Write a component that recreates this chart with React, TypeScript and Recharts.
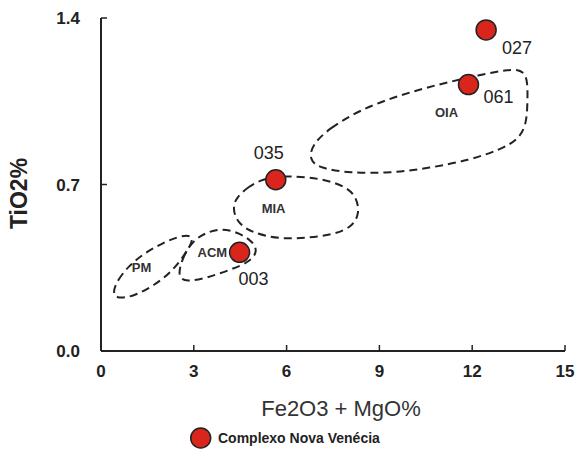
import React from 'react';
import { ComposedChart, XAxis, YAxis, Line, Scatter, Legend, Label, LabelList } from 'recharts';

// Axis ticks
const xTicks = [0, 3, 6, 9, 12, 15];
const yTicks = [0, 0.7, 1.4];

// Samples (Complexo Nova Venécia)
const sampleNames = ['027', '061', '035', '003'];
const sampleFeMg = [12.45, 11.88, 5.65, 4.48];
const sampleTiO2 = [1.35, 1.12, 0.72, 0.415];

// Field outlines (dashed closed curves)
const oiaX = [6.81, 7.39, 8.36, 9.65, 10.94, 12.24, 13.21, 13.59, 13.79, 13.79, 13.76, 13.47, 12.88, 11.91, 10.62, 9.33, 8.03, 7.06, 6.74];
const oiaY = [0.866, 0.937, 1.013, 1.076, 1.122, 1.16, 1.185, 1.181, 1.148, 1.055, 0.95, 0.887, 0.845, 0.803, 0.769, 0.748, 0.748, 0.769, 0.803];

const miaX = [5.19, 4.8, 4.38, 4.25, 4.41, 4.9, 5.77, 6.64, 7.48, 8.13, 8.36, 8.26, 7.94, 7.29, 6.64, 6.0, 5.45];
const miaY = [0.719, 0.694, 0.647, 0.601, 0.538, 0.496, 0.471, 0.475, 0.488, 0.521, 0.58, 0.647, 0.689, 0.719, 0.731, 0.736, 0.727];

const acmX = [2.47, 2.63, 2.93, 3.35, 3.9, 4.48, 4.93, 5.06, 4.8, 4.15, 3.41, 2.76];
const acmY = [0.311, 0.391, 0.458, 0.496, 0.517, 0.496, 0.458, 0.416, 0.374, 0.34, 0.307, 0.29];

const pmX = [0.37, 0.53, 0.92, 1.41, 1.99, 2.54, 2.93, 2.96, 2.7, 2.28, 1.73, 1.08, 0.53];
const pmY = [0.244, 0.298, 0.361, 0.412, 0.454, 0.483, 0.488, 0.458, 0.404, 0.332, 0.277, 0.231, 0.219];

// Field labels
const regionNames = ['OIA', 'MIA', 'ACM', 'PM'];
const regionLabelX = [11.17, 5.58, 3.6, 1.31];
const regionLabelY = [1.005, 0.601, 0.416, 0.353];

const seriesName = 'Complexo Nova Venécia';

const toPts = (xs: number[], ys: number[]) => xs.map((x, i) => ({ x, y: ys[i] }));
const samples = sampleNames.map((name, i) => ({ name, x: sampleFeMg[i], y: sampleTiO2[i] }));
const regions = regionNames.map((name, i) => ({ name, x: regionLabelX[i], y: regionLabelY[i] }));
const outlines = [toPts(oiaX, oiaY), toPts(miaX, miaY), toPts(acmX, acmY), toPts(pmX, pmY)];

// label offsets (styling)
const labelOffset: Record<string, [number, number]> = {
  '027': [31, 18],
  '061': [30, 12],
  '035': [-7, -27],
  '003': [14, 26],
};

const FONT = '"Liberation Sans", Arial, sans-serif';
const INK = '#222';
const RED = '#d9251c';

const SampleDot = (props: any) => {
  const { cx, cy } = props;
  return <circle cx={cx} cy={cy} r={10} fill={RED} stroke={INK} strokeWidth={1.5} />;
};

const RegionText = (props: any) => {
  const { cx, cy, payload } = props;
  return (
    <text x={cx} y={cy} dy="0.36em" textAnchor="middle" fontFamily={FONT} fontWeight="bold" fontSize={13} fill="#333">
      {payload.name}
    </text>
  );
};

const SampleLabel = (props: any) => {
  const { x, y, width, height, value } = props;
  const cx = x + (width || 0) / 2;
  const cy = y + (height || 0) / 2;
  const off = labelOffset[value] || [0, 0];
  return (
    <text x={cx + off[0]} y={cy + off[1]} dy="0.36em" textAnchor="middle" fontFamily={FONT} fontSize={18} fill={INK}>
      {value}
    </text>
  );
};

const LegendContent = () => (
  <svg width={260} height={24}>
    <circle cx={11.7} cy={12} r={10} fill={RED} stroke={INK} strokeWidth={1.5} />
    <text x={29} y={17} fontFamily={FONT} fontWeight="bold" fontSize={14} fill={INK}>
      {seriesName}
    </text>
  </svg>
);

const tickStyle = { fontFamily: FONT, fontWeight: 'bold' as const, fontSize: 17, fill: INK };

export default function App() {
  return (
    <div style={{ position: 'absolute', left: 0, top: 0, width: 579, height: 452, background: '#fff' }}>
      <ComposedChart width={579} height={452} margin={{ top: 18, right: 14, bottom: 51, left: 0 }}>
        <XAxis
          xAxisId="b"
          type="number"
          dataKey="x"
          domain={[0, 15]}
          ticks={xTicks}
          allowDataOverflow
          orientation="bottom"
          height={50}
          tickSize={-6}
          tickMargin={20}
          tick={tickStyle}
          axisLine={{ stroke: INK, strokeWidth: 2 }}
          tickLine={{ stroke: INK, strokeWidth: 1.5 }}
        >
          <Label
            content={(p: any) => {
              const vb = p.viewBox;
              return (
                <text x={vb.x + vb.width / 2 + 8} y={vb.y + 65} textAnchor="middle" fontFamily={FONT} fontSize={22} fill="#333">
                  Fe2O3 + MgO%
                </text>
              );
            }}
          />
        </XAxis>
        <XAxis
          xAxisId="t"
          type="number"
          dataKey="x"
          domain={[0, 15]}
          ticks={xTicks}
          allowDataOverflow
          orientation="top"
          height={0}
          tickSize={-6}
          tickFormatter={() => ''}
          axisLine={{ stroke: INK, strokeWidth: 2 }}
          tickLine={{ stroke: INK, strokeWidth: 1.5 }}
        />
        <YAxis
          yAxisId="l"
          type="number"
          domain={[0, 1.4]}
          ticks={yTicks}
          allowDataOverflow
          width={101}
          tickSize={-6}
          tickMargin={27}
          tick={tickStyle}
          tickFormatter={(v: number) => v.toFixed(1)}
          axisLine={{ stroke: INK, strokeWidth: 2 }}
          tickLine={{ stroke: INK, strokeWidth: 1.5 }}
        >
          <Label
            content={(p: any) => {
              const vb = p.viewBox;
              const cx = 19;
              const cy = vb.y + vb.height / 2 + 9;
              return (
                <text
                  x={cx}
                  y={cy}
                  dy="0.36em"
                  textAnchor="middle"
                  transform={`rotate(-90, ${cx}, ${cy})`}
                  fontFamily={FONT}
                  fontWeight="bold"
                  fontSize={23}
                  fill={INK}
                >
                  TiO2%
                </text>
              );
            }}
          />
        </YAxis>
        <YAxis
          yAxisId="r"
          type="number"
          domain={[0, 1.4]}
          ticks={yTicks}
          allowDataOverflow
          orientation="right"
          width={0}
          tickSize={-6}
          tickFormatter={() => ''}
          axisLine={{ stroke: INK, strokeWidth: 2 }}
          tickLine={{ stroke: INK, strokeWidth: 1.5 }}
        />
        {outlines.map((pts, i) => (
          <Line
            key={i}
            xAxisId="b"
            yAxisId="l"
            data={pts}
            dataKey="y"
            type="basisClosed"
            stroke={INK}
            strokeWidth={2}
            strokeDasharray="8 5"
            dot={false}
            activeDot={false}
            legendType="none"
            isAnimationActive={false}
          />
        ))}
        <Scatter
          xAxisId="b"
          yAxisId="l"
          data={regions}
          dataKey="y"
          shape={RegionText}
          legendType="none"
          isAnimationActive={false}
        />
        <Scatter
          name={seriesName}
          xAxisId="b"
          yAxisId="l"
          data={samples}
          dataKey="y"
          shape={SampleDot}
          isAnimationActive={false}
        >
          <LabelList dataKey="name" content={SampleLabel} />
        </Scatter>
        <Legend
          layout="horizontal"
          verticalAlign="middle"
          align="center"
          content={LegendContent}
          wrapperStyle={{ top: 426, left: 189, width: 260, height: 24 }}
        />
      </ComposedChart>
    </div>
  );
}
